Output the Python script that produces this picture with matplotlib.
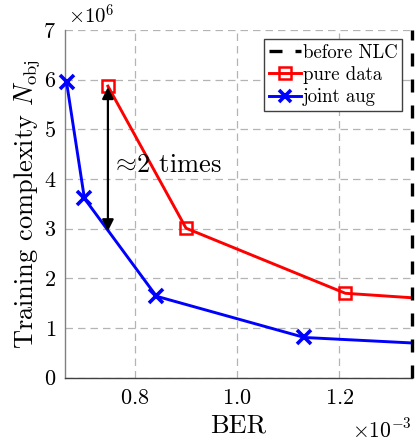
import matplotlib
matplotlib.use("Agg")
import matplotlib.pyplot as plt
from matplotlib.lines import Line2D

plt.rcParams['font.family'] = 'serif'
plt.rcParams['font.serif'] = ['cmr10']
plt.rcParams['mathtext.fontset'] = 'cm'
plt.rcParams['axes.unicode_minus'] = False
plt.rcParams['axes.formatter.use_mathtext'] = True

# Data
ber_pure = [0.747e-3, 0.900e-3, 1.212e-3, 1.342e-3]
nobj_pure = [5.87e6, 3.01e6, 1.70e6, 1.61e6]
ber_joint = [0.666e-3, 0.701e-3, 0.842e-3, 1.132e-3, 1.342e-3]
nobj_joint = [5.95e6, 3.61e6, 1.64e6, 0.81e6, 0.70e6]
ber_before_nlc = 1.342e-3
arrow_x = 0.747e-3
arrow_y = [2.95e6, 5.85e6]
labels = ['before NLC', 'pure data', 'joint aug']
annot = r'$\approx\!$2 times'
x_offset_label = r'$\times10^{-3}$'
y_offset_label = r'$\times10^{6}$'

fig = plt.figure(figsize=(4.17, 4.46), dpi=100)
ax = fig.add_axes([0.1547, 0.1531, 0.8326, 0.7796])

ax.plot(ber_pure, nobj_pure, color='#ff0000', lw=2.1, marker='s', ms=9,
        mfc='none', mec='#ff0000', mew=1.8, markevery=[0, 1, 2], zorder=3,
        clip_on=False)
ax.plot(ber_joint, nobj_joint, color='#0000ff', lw=2.1, marker='x', ms=10,
        mec='#0000ff', mew=2.6, markevery=[0, 1, 2, 3], zorder=3,
        clip_on=False)
ax.axvline(ber_before_nlc, color='black', lw=2.4, linestyle=(0, (3.9, 3.9)),
           clip_on=False, zorder=4)

ax.annotate('', xy=(arrow_x, arrow_y[1]), xytext=(arrow_x, arrow_y[0]),
            arrowprops=dict(arrowstyle='<|-|>', color='black', lw=1.6,
                            mutation_scale=17, shrinkA=0, shrinkB=0), zorder=5)
ax.text(0.754e-3, 4.28e6, annot, fontsize=19, va='center', ha='left')

ax.set_xlim(0.662e-3, 1.342e-3)
ax.set_ylim(0, 7e6)
ax.set_xticks([0.8e-3, 1.0e-3, 1.2e-3])
ax.set_yticks([0, 1e6, 2e6, 3e6, 4e6, 5e6, 6e6, 7e6])
ax.ticklabel_format(style='sci', scilimits=(0, 0), useMathText=True)
ax.tick_params(length=0, labelsize=16)
ax.tick_params(axis='x', pad=8)
ax.tick_params(axis='y', pad=6)
ax.xaxis.get_offset_text().set_visible(False)
ax.yaxis.get_offset_text().set_visible(False)
ax.text(1.0, -0.115, x_offset_label, transform=ax.transAxes, fontsize=15.5,
        ha='right', va='top')
ax.text(0.01, 1.005, y_offset_label, transform=ax.transAxes, fontsize=15,
        ha='left', va='bottom')

ax.grid(True, color='#b4b4b4', linestyle=(0, (6, 4)), lw=0.9)
for s in ['top', 'right']:
    ax.spines[s].set_visible(False)
ax.spines['left'].set_color('#808080')
ax.spines['bottom'].set_color('#404040')
ax.spines['left'].set_linewidth(1.0)
ax.spines['bottom'].set_linewidth(1.0)

ax.set_xlabel('BER', fontsize=19, labelpad=4)
ax.set_ylabel(r'Training complexity $N_{\mathrm{obj}}$', fontsize=19, labelpad=1)

handles = [
    Line2D([], [], color='black', lw=2.4, linestyle=(0, (3.9, 3.9))),
    Line2D([], [], color='#ff0000', lw=2.1, marker='s', ms=8, mfc='none', mew=1.8),
    Line2D([], [], color='#0000ff', lw=2.1, marker='x', ms=9, mew=2.6),
]
leg = ax.legend(handles, labels, loc='upper right', fontsize=13.5, fancybox=False,
                framealpha=1, edgecolor='#404040', handlelength=1.7,
                handletextpad=0.1, borderpad=0.25, labelspacing=0.22,
                borderaxespad=0.5)
leg.get_frame().set_linewidth(1.0)
leg.set_zorder(6)

fig.savefig('out.png', dpi=100)
